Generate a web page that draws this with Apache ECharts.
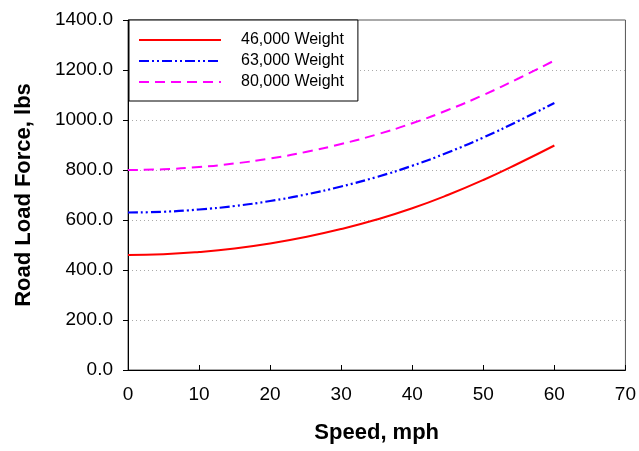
<!DOCTYPE html>
<html>
<head>
<meta charset="utf-8">
<script src="https://cdn.jsdelivr.net/npm/echarts@6/dist/echarts.min.js"></script>
<style>
html,body{margin:0;padding:0;background:#fff;}
#c{width:639px;height:451px;}
</style>
</head>
<body>
<div id="c"></div>
<script>
const speeds = [0, 5, 10, 15, 20, 25, 30, 35, 40, 45, 50, 55, 60];
const w46000 = [460, 463, 472, 486, 506, 532, 564, 602, 647, 700, 760, 827, 898];
const w63000 = [630, 633, 642, 656, 676, 702, 734, 772, 817, 870, 930, 997, 1068];
const w80000 = [800, 803, 812, 826, 846, 872, 904, 942, 987, 1040, 1100, 1167, 1238];
const seriesNames = ['46,000 Weight', '63,000 Weight', '80,000 Weight'];
const xTicks = [0, 10, 20, 30, 40, 50, 60, 70];
const yTicks = [0, 200, 400, 600, 800, 1000, 1200, 1400];

function pairs(ys) { return speeds.map((s, i) => [s, ys[i]]); }

const chart = echarts.init(document.getElementById('c'), null, {renderer: 'canvas'});
const font = 'Liberation Sans, Arial, sans-serif';
chart.setOption({
  animation: false,
  backgroundColor: '#fff',
  grid: {left: 128, right: 13, top: 20, bottom: 81, show: true, borderColor: '#555', borderWidth: 1},
  legend: {
    orient: 'vertical', left: 129, top: 20,
    padding: [12, 14, 11, 9],
    backgroundColor: '#fff', borderColor: '#000', borderWidth: 1,
    itemWidth: 82, itemHeight: 12, itemGap: 5,
    itemStyle: {opacity: 0},
    textStyle: {fontFamily: font, fontSize: 16, color: '#000', rich: {p: {width: 15}}},
    formatter: n => '{p|}' + n,
    data: seriesNames
  },
  xAxis: {
    type: 'value', min: xTicks[0], max: xTicks[xTicks.length - 1], interval: 10,
    name: 'Speed, mph', nameLocation: 'middle', nameGap: 52,
    nameTextStyle: {fontFamily: font, fontSize: 22, fontWeight: 'bold', color: '#000'},
    axisLine: {lineStyle: {color: '#000', width: 1}},
    axisTick: {inside: true, length: 5, lineStyle: {color: '#000'}},
    axisLabel: {fontFamily: font, fontSize: 19, color: '#000', margin: 15},
    splitLine: {show: false}
  },
  yAxis: {
    type: 'value', min: yTicks[0], max: yTicks[yTicks.length - 1], interval: 200,
    name: 'Road Load Force, lbs', nameLocation: 'middle', nameGap: 93,
    nameTextStyle: {fontFamily: font, fontSize: 22, fontWeight: 'bold', color: '#000'},
    axisLine: {show: true, lineStyle: {color: '#000', width: 1}},
    axisTick: {show: true, inside: false, length: 5, lineStyle: {color: '#000'}},
    axisLabel: {fontFamily: font, fontSize: 19, color: '#000', margin: 15,
      formatter: v => v.toFixed(1)},
    splitLine: {show: true, lineStyle: {color: '#aaa', type: [1, 3], width: 1}}
  },
  series: [
    {name: seriesNames[0], type: 'line', data: pairs(w46000), smooth: true, symbol: 'none',
     lineStyle: {color: '#ff0000', width: 2}, itemStyle: {color: '#ff0000'}},
    {name: seriesNames[1], type: 'line', data: pairs(w63000), smooth: true, symbol: 'none',
     lineStyle: {color: '#0000ff', width: 2.2, type: [10, 3, 2, 3, 2, 3]}, itemStyle: {color: '#0000ff'}},
    {name: seriesNames[2], type: 'line', data: pairs(w80000), smooth: true, symbol: 'none',
     lineStyle: {color: '#ff00ff', width: 2, type: [10, 6]}, itemStyle: {color: '#ff00ff'}}
  ]
});
</script>
</body>
</html>
